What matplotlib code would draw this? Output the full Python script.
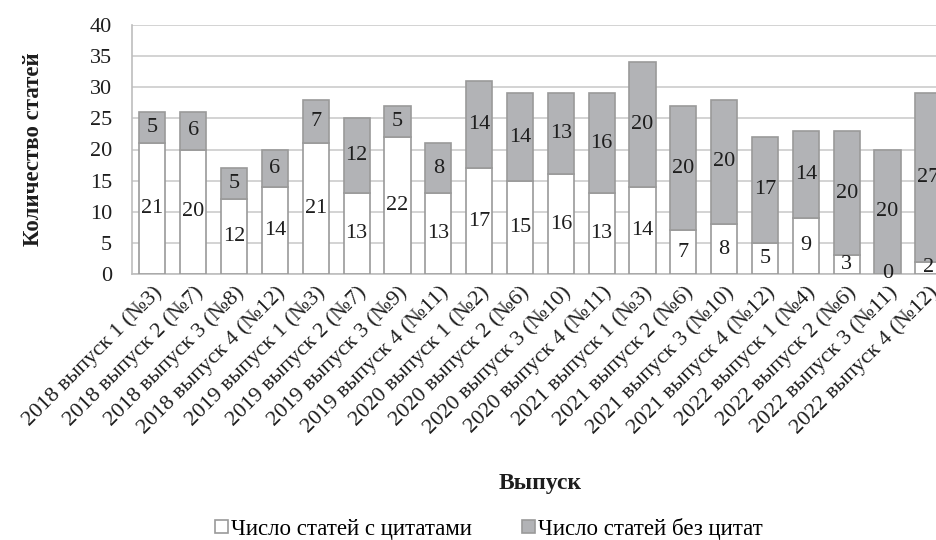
import matplotlib
matplotlib.use("Agg")
import matplotlib.pyplot as plt
import numpy as np

categories = [
    "2018 выпуск 1 (№3)", "2018 выпуск 2 (№7)", "2018 выпуск 3 (№8)", "2018 выпуск 4 (№12)",
    "2019 выпуск 1 (№3)", "2019 выпуск 2 (№7)", "2019 выпуск 3 (№9)", "2019 выпуск 4 (№11)",
    "2020 выпуск 1 (№2)", "2020 выпуск 2 (№6)", "2020 выпуск 3 (№10)", "2020 выпуск 4 (№11)",
    "2021 выпуск 1 (№3)", "2021 выпуск 2 (№6)", "2021 выпуск 3 (№10)", "2021 выпуск 4 (№12)",
    "2022 выпуск 1 (№4)", "2022 выпуск 2 (№6)", "2022 выпуск 3 (№11)", "2022 выпуск 4 (№12)",
]
with_quotes = [21, 20, 12, 14, 21, 13, 22, 13, 17, 15, 16, 13, 14, 7, 8, 5, 9, 3, 0, 2]
without_quotes = [5, 6, 5, 6, 7, 12, 5, 8, 14, 14, 13, 16, 20, 20, 20, 17, 14, 20, 20, 27]
y_ticks = [0, 5, 10, 15, 20, 25, 30, 35, 40]

plt.rcParams['font.family'] = ['Liberation Serif', 'DejaVu Serif']

fig = plt.figure(figsize=(9.37, 5.4), dpi=100)
ax = fig.add_axes([132/937, 1-274/540, 816.8/937, 249/540])

x = np.arange(len(categories))
w = 0.64
edge = '#9a9a9a'
gray = '#b2b3b6'
txt = '#1e1e1e'
b1 = ax.bar(x, with_quotes, w, color='white', edgecolor=edge, linewidth=1.2,
            label='Число статей с цитатами', zorder=3)
b2 = ax.bar(x, without_quotes, w, bottom=with_quotes, color=gray, edgecolor=edge,
            linewidth=1.2, label='Число статей без цитат', zorder=3)

for xi, a, b in zip(x, with_quotes, without_quotes):
    ax.text(xi, a/2, str(a), ha='center', va='center', fontsize=16, color=txt, zorder=4)
    ax.text(xi, a + b/2, str(b), ha='center', va='center', fontsize=16, color=txt, zorder=4)

ax.set_xlim(-0.5, len(categories)-0.5)
ax.set_ylim(0, 40)
ax.set_yticks(y_ticks)
ax.tick_params(axis='y', length=0, labelsize=16, pad=14.5, colors=txt)
ax.yaxis.grid(True, color='#cccccc', linewidth=1.2, zorder=0)
ax.set_axisbelow(True)
for s in ['top', 'right']:
    ax.spines[s].set_visible(False)
ax.spines['left'].set_color('#bdbdbd')
ax.spines['bottom'].set_color('#bdbdbd')
ax.spines['left'].set_linewidth(1.2)
ax.spines['bottom'].set_linewidth(1.2)

ax.set_xticks(x)
ax.set_xticklabels(categories, rotation=45, ha='right', rotation_mode='anchor',
                   fontsize=16, color=txt)
ax.tick_params(axis='x', length=0, pad=6)

ax.set_ylabel('Количество статей', fontsize=16.5, fontweight='bold', color=txt)
ax.yaxis.set_label_coords(-0.108, 0.5)
ax.set_xlabel('Выпуск', fontsize=17, fontweight='bold', color=txt)
ax.xaxis.set_label_coords(0.5, -0.80)

fig.legend(handles=[b1, b2], loc='center', bbox_to_anchor=(489/937, 0.021), ncol=2,
           frameon=False, fontsize=16.5, handlelength=0.55, handleheight=0.55,
           handletextpad=0.15, columnspacing=2.2, borderpad=0)

fig.savefig('out.png', dpi=100)
